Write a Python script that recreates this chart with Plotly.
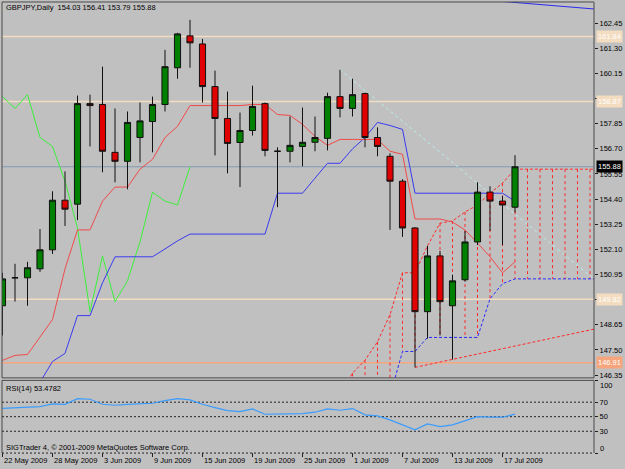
import plotly.graph_objects as go

# ---------------- data ----------------
bar_dates = ["22 May 2009", "25 May 2009", "26 May 2009", "27 May 2009", "28 May 2009", "29 May 2009",
             "1 Jun 2009", "2 Jun 2009", "3 Jun 2009", "4 Jun 2009", "5 Jun 2009", "8 Jun 2009",
             "9 Jun 2009", "10 Jun 2009", "11 Jun 2009", "12 Jun 2009", "15 Jun 2009", "16 Jun 2009",
             "17 Jun 2009", "18 Jun 2009", "19 Jun 2009", "22 Jun 2009", "23 Jun 2009", "24 Jun 2009",
             "25 Jun 2009", "26 Jun 2009", "29 Jun 2009", "30 Jun 2009", "1 Jul 2009", "2 Jul 2009",
             "3 Jul 2009", "6 Jul 2009", "7 Jul 2009", "8 Jul 2009", "9 Jul 2009", "10 Jul 2009",
             "13 Jul 2009", "14 Jul 2009", "15 Jul 2009", "16 Jul 2009", "17 Jul 2009", "20 Jul 2009"]
label_every = 4

open_ = [149.52, 150.80, 150.80, 151.21, 152.08, 154.35, 154.17, 158.77, 158.73, 156.54, 156.13, 157.22,
         157.95, 158.73, 160.41, 161.87, 161.50, 159.55, 158.09, 156.99, 157.54, 158.77, 156.59, 156.59,
         156.81, 157.00, 157.18, 159.09, 158.55, 159.23, 157.22, 156.36, 155.22, 153.08, 149.25, 151.80,
         149.52, 150.71, 152.44, 154.72, 154.31, 154.03]
high = [151.03, 151.44, 151.53, 153.03, 154.76, 155.67, 159.14, 159.18, 160.46, 158.55, 158.41, 158.82,
        159.09, 161.23, 162.01, 162.60, 161.73, 160.28, 159.32, 158.36, 159.59, 158.82, 156.77, 158.18,
        158.59, 158.18, 159.27, 160.32, 159.91, 159.27, 157.68, 156.50, 155.31, 153.12, 152.26, 152.03,
        150.94, 152.94, 155.17, 154.99, 154.54, 156.41]
low = [148.16, 149.71, 149.52, 151.07, 151.89, 153.17, 153.44, 156.81, 155.63, 155.17, 154.85, 156.08,
       156.54, 158.41, 159.91, 160.41, 158.82, 156.40, 155.58, 154.95, 157.31, 156.36, 154.03, 156.08,
       155.90, 156.59, 156.63, 158.14, 158.18, 156.77, 156.36, 152.99, 152.67, 146.70, 148.02, 148.16,
       147.06, 150.62, 152.30, 152.94, 152.30, 153.79]
close = [150.75, 150.80, 151.26, 152.08, 154.35, 153.94, 158.77, 158.68, 156.59, 156.13, 157.91, 157.98,
         158.73, 160.46, 161.96, 161.55, 159.55, 158.09, 156.95, 157.54, 158.64, 156.63, 156.59, 156.86,
         157.00, 157.22, 159.09, 158.55, 159.18, 157.22, 156.81, 155.22, 153.08, 149.25, 151.80, 149.71,
         150.66, 152.44, 154.72, 154.31, 154.13, 155.88]

tenkan = [147.02, 147.25, 147.29, 148.07, 148.89, 151.21, 152.99, 152.99, 154.31, 154.95, 154.95, 155.77,
          156.22, 157.22, 157.73, 158.68, 158.68, 158.68, 158.68, 158.68, 158.73, 158.73, 158.27, 158.23,
          157.82, 157.27, 156.86, 157.13, 157.13, 157.13, 157.13, 156.59, 156.45, 153.49, 153.49, 153.49,
          153.35, 152.99, 152.39, 151.76, 151.03, 151.53]
kijun = [None, None, None, 146.02, 146.97, 147.34, 149.07, 149.07, 150.57, 151.76, 151.76, 151.76,
         151.76, 152.12, 152.49, 152.80, 152.80, 152.80, 152.80, 152.80, 152.80, 152.80, 154.67, 154.67,
         154.67, 155.36, 156.04, 156.04, 156.70, 157.22, 157.91, 157.77, 157.59, 154.67, 154.67, 154.67,
         154.67, 154.67, 154.67, 154.67, 154.67, 154.31]
chikou_shift = 26

senkou_start = 27
senkou_a = [145.51, 146.43, 147.03, 147.87, 149.11, 151.03, 151.03, 152.26, 153.30, 153.40, 153.81,
            154.13, 154.67, 155.13, 155.77, 155.77, 155.77, 155.77, 155.77, 155.77, 155.77, 155.77]
senkou_b = [145.00, 145.10, 145.20, 145.30, 145.38, 147.43, 147.43, 148.07, 148.07, 148.07, 148.07,
            148.07, 149.84, 150.53, 150.75, 150.75, 150.75, 150.75, 150.75, 150.75, 150.75, 150.75]

rsi = [61.6, 62.1, 62.6, 63.9, 67.6, 67.1, 74.9, 74.0, 67.1, 65.8, 67.1, 67.6, 68.5, 72.1, 74.9, 73.1,
       67.1, 62.6, 58.4, 57.1, 60.7, 53.4, 53.4, 54.3, 54.3, 56.2, 60.7, 58.9, 61.2, 52.5, 51.1, 45.7,
       38.8, 32.0, 40.2, 36.5, 38.8, 44.7, 50.2, 49.3, 49.3, 53.48]
rsi_levels = [30, 50, 70]

price_ticks = [146.35, 147.50, 148.65, 149.80, 150.95, 152.10, 153.25, 154.40, 155.55, 156.70,
               157.85, 159.00, 160.15, 161.30, 162.45]
hline_levels = [161.84, 158.87, 149.82]
last_price = 155.88
stop_level = 146.91

trend_cyan_x, trend_cyan_y = [27, 47.32], [160.32, 150.74]
trend_red_x, trend_red_y = [33, 47.32], [146.70, 148.45]
trend_blue_x, trend_blue_y = [38, 47.32], [163.54, 163.10]

title_text = "GBPJPY,Daily  154.03 156.41 153.79 155.88"
rsi_text = "RSI(14) 53.4782"
copyright_text = "SIGTrader 4, \u00a9 2001-2009 MetaQuotes Software Corp."

# ---------------- layout geometry ----------------
W, H = 625, 469
X_LEFT, X_RIGHT = 2, 594
MAIN_TOP, MAIN_BOT = 2, 379.5
RSI_TOP, RSI_BOT = 382, 455
XR = [-0.04, 47.32]
YR = [146.22, 163.42]
FONT = "Liberation Sans, Arial, sans-serif"
FS = 7.5
BG = "#c0c0c0"


def fx(p):
    return p / W


def fy(p):
    return 1 - p / H


bars = list(range(len(close)))
fig = go.Figure()

# cloud hatching (vertical dotted lines between the spans)
hx, hy = [], []
for k, (a, b) in enumerate(zip(senkou_a, senkou_b)):
    i = senkou_start + k
    hx += [i, i, None]
    hy += [a, b, None]
fig.add_trace(go.Scatter(x=hx, y=hy, mode="lines", line=dict(color="#ff2a2a", width=1, dash="3px,3px"),
                         hoverinfo="skip"))
sx = list(range(senkou_start, senkou_start + len(senkou_a)))
fig.add_trace(go.Scatter(x=sx, y=senkou_a, mode="lines", line=dict(color="#ff2a2a", width=1, dash="3px,2px"),
                         hoverinfo="skip"))
fig.add_trace(go.Scatter(x=sx, y=senkou_b, mode="lines", line=dict(color="#2a2aff", width=1, dash="3px,2px"),
                         hoverinfo="skip"))

# trend lines
fig.add_trace(go.Scatter(x=trend_cyan_x, y=trend_cyan_y, mode="lines",
                         line=dict(color="#b8f0ee", width=1, dash="3px,3px"), hoverinfo="skip"))
fig.add_trace(go.Scatter(x=trend_red_x, y=trend_red_y, mode="lines",
                         line=dict(color="#ff2a2a", width=1, dash="3px,2px"), hoverinfo="skip"))
fig.add_trace(go.Scatter(x=trend_blue_x, y=trend_blue_y, mode="lines",
                         line=dict(color="#2a2aee", width=1), hoverinfo="skip"))

# Ichimoku lines
chikou_x = bars[:len(close) - chikou_shift]
chikou_y = close[chikou_shift:]
fig.add_trace(go.Scatter(x=chikou_x, y=chikou_y, mode="lines", line=dict(color="#3cf03c", width=1),
                         hoverinfo="skip"))
fig.add_trace(go.Scatter(x=bars, y=kijun, mode="lines", line=dict(color="#3a3af0", width=1),
                         hoverinfo="skip"))
fig.add_trace(go.Scatter(x=bars, y=tenkan, mode="lines", line=dict(color="#f04a4a", width=1),
                         hoverinfo="skip"))

# candles (on an overlaying axis pair so they sit in front of the indicators)
fig.add_trace(go.Candlestick(
    x=bars, open=open_, high=high, low=low, close=close,
    increasing=dict(fillcolor="#008000", line=dict(color="#111111", width=1)),
    decreasing=dict(fillcolor="#e00000", line=dict(color="#111111", width=1)),
    whiskerwidth=0, xaxis="x3", yaxis="y3", hoverinfo="skip"))

# RSI
fig.add_trace(go.Scatter(x=bars, y=rsi, mode="lines", line=dict(color="#3a9cff", width=1.2),
                         xaxis="x2", yaxis="y2", hoverinfo="skip"))

shapes = []
# horizontal objects behind everything
for lv in hline_levels:
    shapes.append(dict(type="line", xref="x", yref="y", x0=XR[0], x1=XR[1], y0=lv, y1=lv,
                       line=dict(color="#f3dcc0", width=1.5), layer="below"))
shapes.append(dict(type="line", xref="x", yref="y", x0=XR[0], x1=XR[1], y0=last_price, y1=last_price,
                   line=dict(color="#7f9ab3", width=1), layer="below"))
shapes.append(dict(type="line", xref="x", yref="y", x0=XR[0], x1=XR[1], y0=stop_level, y1=stop_level,
                   line=dict(color="#f6a57c", width=1.5), layer="below"))
# RSI levels
for lv in rsi_levels:
    shapes.append(dict(type="line", xref="x2", yref="y2", x0=XR[0], x1=XR[1], y0=lv, y1=lv,
                       line=dict(color="#202020", width=1, dash="2px,2px"), layer="below"))

# frames
frame = dict(color="#4a4a4a", width=1)
shapes.append(dict(type="rect", xref="paper", yref="paper", x0=fx(X_LEFT), x1=fx(X_RIGHT),
                   y0=fy(MAIN_BOT), y1=fy(MAIN_TOP), line=frame, layer="above"))
for (a, b, c, d) in [(X_LEFT, RSI_TOP, X_RIGHT, RSI_TOP), (X_LEFT, RSI_TOP, X_LEFT, RSI_BOT),
                     (X_RIGHT, RSI_TOP, X_RIGHT, RSI_BOT)]:
    shapes.append(dict(type="line", xref="paper", yref="paper", x0=fx(a), x1=fx(c), y0=fy(b), y1=fy(d),
                       line=frame, layer="above"))
shapes.append(dict(type="line", xref="paper", yref="paper", x0=fx(X_LEFT), x1=fx(X_RIGHT),
                   y0=fy(RSI_BOT), y1=fy(RSI_BOT), line=dict(color="#202020", width=1, dash="2px,2px"),
                   layer="above"))
# date tick marks
for i in range(0, len(bar_dates), label_every):
    shapes.append(dict(type="line", xref="x2", yref="paper", x0=i, x1=i, y0=fy(RSI_BOT), y1=fy(RSI_BOT + 4),
                       line=dict(color="#202020", width=1)))

ann = []
small = dict(family=FONT, size=FS, color="#000000")
ann.append(dict(xref="paper", yref="paper", x=fx(4), y=fy(8), text=title_text, showarrow=False,
                xanchor="left", yanchor="middle", font=small))
ann.append(dict(xref="paper", yref="paper", x=fx(4), y=fy(390), text=rsi_text, showarrow=False,
                xanchor="left", yanchor="middle", font=small))
ann.append(dict(xref="paper", yref="paper", x=fx(4), y=fy(449), text=copyright_text, showarrow=False,
                xanchor="left", yanchor="middle", font=small))
for i in range(0, len(bar_dates), label_every):
    ann.append(dict(xref="x2", yref="paper", x=i, y=fy(462.5), text=bar_dates[i], showarrow=False,
                    xanchor="left", yanchor="middle", xshift=-1, font=small))
# price label boxes
box_font = dict(family=FONT, size=FS, color="#ffffff")
for lv in hline_levels:
    ann.append(dict(xref="paper", yref="y", x=fx(596), y=lv, text=f"{lv:.2f}", showarrow=False,
                    xanchor="left", yanchor="middle", bgcolor="#f3dcc0", borderpad=1, font=box_font))
ann.append(dict(xref="paper", yref="y", x=fx(596), y=last_price, text=f"{last_price:.2f}", showarrow=False,
                xanchor="left", yanchor="middle", bgcolor="#000000", borderpad=1, font=box_font))
ann.append(dict(xref="paper", yref="y", x=fx(596), y=stop_level, text=f"{stop_level:.2f}", showarrow=False,
                xanchor="left", yanchor="middle", bgcolor="#f6a57c", borderpad=1, font=box_font))
# RSI 100 / 0 labels
ann.append(dict(xref="paper", yref="y2", x=fx(598), y=100, yshift=-5, text="100", showarrow=False,
                xanchor="left", yanchor="middle", font=small))
ann.append(dict(xref="paper", yref="y2", x=fx(598), y=0, yshift=5, text="0", showarrow=False,
                xanchor="left", yanchor="middle", font=small))

# tick labels hidden behind the object label boxes are left blank
hidden = [round(v, 2) for v in hline_levels]
tick_text = []
for v in price_ticks:
    near = any(abs(v - h) < 0.3 for h in hidden)
    tick_text.append("" if near else f"{v:.2f}")

main_dom = [fy(MAIN_BOT), fy(MAIN_TOP)]
rsi_dom = [fy(RSI_BOT), fy(RSI_TOP)]
xdom = [fx(X_LEFT), fx(X_RIGHT)]

fig.update_layout(
    width=W, height=H, margin=dict(l=0, r=0, t=0, b=0),
    paper_bgcolor=BG, plot_bgcolor=BG, showlegend=False,
    font=dict(family=FONT, size=FS, color="#000000"),
    xaxis=dict(domain=xdom, range=XR, visible=False, anchor="y"),
    yaxis=dict(domain=main_dom, range=YR, side="right", anchor="x", showgrid=False, zeroline=False,
               showline=False, ticks="outside", ticklen=3, tickcolor="#202020",
               tickvals=price_ticks, ticktext=tick_text,
               tickfont=dict(family=FONT, size=FS, color="#000000")),
    xaxis2=dict(domain=xdom, range=XR, visible=False, anchor="y2"),
    yaxis2=dict(domain=rsi_dom, range=[0, 100], side="right", anchor="x2", showgrid=False, zeroline=False,
                showline=False, ticks="outside", ticklen=3, tickcolor="#202020",
                tickvals=[0] + rsi_levels + [100], ticktext=[""] + [str(v) for v in rsi_levels] + [""],
                tickfont=dict(family=FONT, size=FS, color="#000000")),
    xaxis3=dict(overlaying="x", range=XR, visible=False, anchor="y3", rangeslider=dict(visible=False)),
    yaxis3=dict(overlaying="y", range=YR, visible=False, anchor="x3"),
    shapes=shapes, annotations=ann,
)

fig.write_html("out.html")
